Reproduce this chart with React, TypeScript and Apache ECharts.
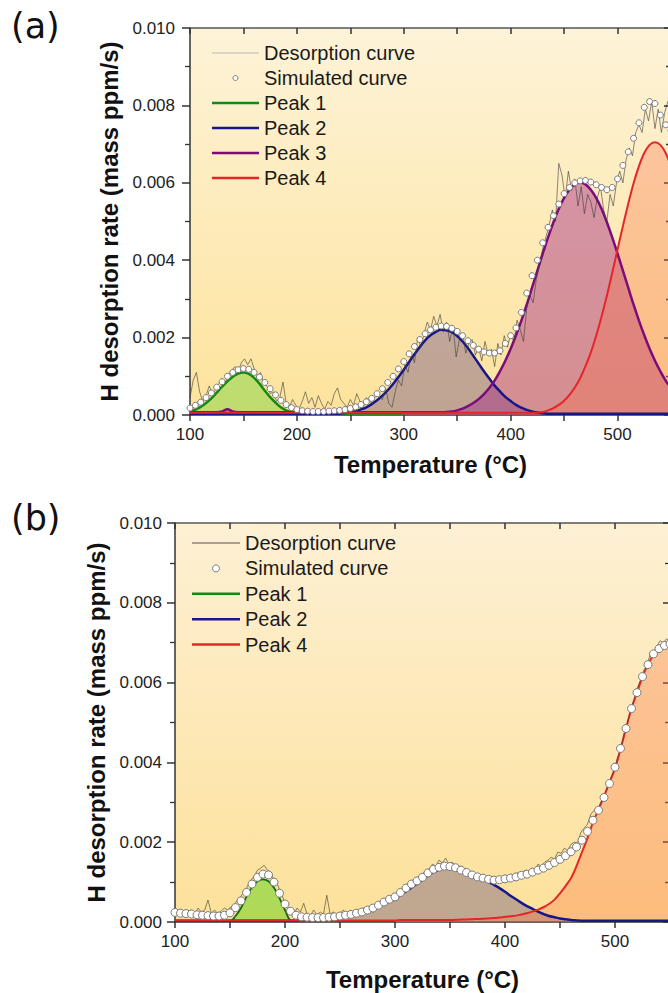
import React, { useEffect, useRef } from "react";
import * as echarts from "echarts";

// Temperature grids (°C)
const tempRaw = Array.from({ length: 151 }, (_, i) => 100 + 3 * i);
const tempFit = Array.from({ length: 91 }, (_, i) => 100 + 5 * i);
const tempPeak1 = Array.from({ length: 41 }, (_, i) => 100 + 5 * i);

// All rates below are in 10^-3 mass ppm/s
// ---------- Panel (a) ----------
const rawA = [
  0.45, 0.9, 1.1, 0.6, 0.35, 0.5, 0.75, 0.55, 0.65, 0.8,
  0.95, 0.85, 1.05, 1.15, 1.25, 1.1, 1.35, 1.45, 1.3, 1.45,
  1.2, 1.0, 1.1, 0.8, 0.75, 0.55, 0.6, 0.35, 0.45, 0.85,
  0.3, 0.2, 0.4, 0.25, 0.15, 0.35, 0.6, 0.3, 0.45, 0.2,
  0.5, 0.3, 0.15, 0.35, 0.25, 0.55, 0.7, 0.4, 0.3, 0.2,
  0.4, 0.25, 0.55, 0.35, 0.2, 0.45, 0.35, 0.3, 0.55, 0.45,
  0.4, 0.7, 0.3, 0.2, 0.6, 0.9, 0.75, 1.3, 1.1, 1.6,
  1.35, 2.0, 1.75, 2.1, 2.4, 2.2, 2.55, 2.3, 2.6, 2.15,
  2.4, 1.9, 2.3, 1.5, 1.95, 2.1, 1.6, 1.85, 1.95, 1.55,
  1.75, 1.4, 1.9, 1.55, 1.7, 1.25, 1.85, 1.55, 2.05, 1.75,
  2.1, 1.9, 2.45, 2.2, 1.9, 2.75, 3.1, 2.9, 3.5, 3.9,
  4.3, 4.6, 4.9, 5.3, 5.0, 6.5, 6.2, 5.6, 6.3, 5.8,
  6.1, 5.4, 5.9, 5.2, 5.7, 5.5, 5.1, 5.6, 5.9, 5.3,
  5.0, 5.7, 5.4, 6.0, 6.3, 6.0, 6.6, 6.9, 6.7, 7.3,
  7.5, 7.3, 7.9, 7.6, 8.1, 7.4, 7.9, 7.3, 7.8, 8.1,
  8.2,
];
const simA = [
  0.18, 0.25, 0.33, 0.45, 0.57, 0.72, 0.86, 1.0, 1.1, 1.17,
  1.2, 1.18, 1.1, 0.98, 0.84, 0.68, 0.52, 0.38, 0.27, 0.19,
  0.14, 0.11, 0.1, 0.09, 0.09, 0.09, 0.1, 0.11, 0.12, 0.14,
  0.17, 0.21, 0.27, 0.34, 0.43, 0.55, 0.68, 0.84, 1.0, 1.19,
  1.38, 1.58, 1.77, 1.95, 2.1, 2.2, 2.27, 2.3, 2.29, 2.24,
  2.16, 2.05, 1.92, 1.8, 1.7, 1.63, 1.6, 1.6, 1.66, 1.85,
  2.05, 2.25, 2.65, 3.15, 3.6, 4.0, 4.45, 4.85, 5.15, 5.45,
  5.72, 5.88, 6.0, 6.05, 6.06, 6.02, 5.95, 5.88, 5.82, 5.88,
  6.1, 6.45, 6.8, 7.15, 7.55, 7.95, 8.1, 8.05, 7.75, 7.5,
  7.35,
];
const peak1A = [
  0.1, 0.14, 0.21, 0.31, 0.43, 0.58, 0.73, 0.87, 0.99, 1.07,
  1.1, 1.06, 0.96, 0.81, 0.63, 0.46, 0.32, 0.2, 0.12, 0.07,
  0.05, 0.04, 0.04, 0.04, 0.04, 0.04, 0.04, 0.04, 0.04, 0.04,
  0.04, 0.04, 0.04, 0.04, 0.04, 0.04, 0.04, 0.04, 0.04, 0.04,
  0.04,
];
const peak2A = [
  0.03, 0.03, 0.03, 0.03, 0.03, 0.03, 0.03, 0.03, 0.03, 0.03,
  0.03, 0.03, 0.03, 0.03, 0.03, 0.03, 0.03, 0.03, 0.03, 0.03,
  0.03, 0.03, 0.03, 0.03, 0.03, 0.03, 0.03, 0.03, 0.035, 0.05,
  0.07, 0.1, 0.145, 0.2, 0.28, 0.38, 0.5, 0.64, 0.8, 0.98,
  1.17, 1.37, 1.57, 1.76, 1.93, 2.06, 2.15, 2.2, 2.19, 2.14,
  2.04, 1.9, 1.73, 1.53, 1.33, 1.13, 0.94, 0.76, 0.61, 0.47,
  0.36, 0.26, 0.19, 0.134, 0.093, 0.063, 0.045, 0.035, 0.03, 0.03,
  0.03, 0.03, 0.03, 0.03, 0.03, 0.03, 0.03, 0.03, 0.03, 0.03,
  0.03, 0.03, 0.03, 0.03, 0.03, 0.03, 0.03, 0.03, 0.03, 0.03,
  0.03,
];
const peak3A = [
  0.07, 0.07, 0.07, 0.07, 0.07, 0.07, 0.09, 0.15, 0.09, 0.07,
  0.07, 0.07, 0.07, 0.07, 0.07, 0.07, 0.07, 0.07, 0.07, 0.07,
  0.07, 0.07, 0.07, 0.07, 0.07, 0.07, 0.07, 0.07, 0.07, 0.07,
  0.07, 0.07, 0.07, 0.07, 0.07, 0.07, 0.07, 0.07, 0.07, 0.07,
  0.07, 0.07, 0.07, 0.07, 0.07, 0.07, 0.07, 0.07, 0.075, 0.09,
  0.12, 0.164, 0.23, 0.31, 0.41, 0.54, 0.7, 0.89, 1.13, 1.4,
  1.71, 2.06, 2.44, 2.85, 3.29, 3.73, 4.17, 4.59, 4.98, 5.33,
  5.61, 5.82, 5.96, 6.0, 5.96, 5.82, 5.61, 5.33, 4.98, 4.59,
  4.17, 3.73, 3.29, 2.85, 2.44, 2.06, 1.71, 1.4, 1.13, 0.89,
  0.7,
];
const peak4A = [
  0.06, 0.06, 0.06, 0.06, 0.06, 0.06, 0.06, 0.06, 0.06, 0.06,
  0.06, 0.06, 0.06, 0.06, 0.06, 0.06, 0.06, 0.06, 0.06, 0.06,
  0.06, 0.06, 0.06, 0.06, 0.06, 0.06, 0.06, 0.06, 0.06, 0.06,
  0.06, 0.06, 0.06, 0.06, 0.06, 0.06, 0.06, 0.06, 0.06, 0.06,
  0.06, 0.06, 0.06, 0.06, 0.06, 0.06, 0.06, 0.06, 0.06, 0.06,
  0.06, 0.06, 0.06, 0.06, 0.06, 0.06, 0.06, 0.06, 0.06, 0.06,
  0.06, 0.06, 0.06, 0.06, 0.06, 0.06, 0.078, 0.12, 0.178, 0.26,
  0.37, 0.52, 0.71, 0.95, 1.26, 1.62, 2.05, 2.54, 3.08, 3.67,
  4.28, 4.88, 5.46, 5.99, 6.43, 6.77, 6.98, 7.05, 6.98, 6.77,
  6.43,
];

// ---------- Panel (b) ----------
const rawB = [
  0.3, 0.25, 0.32, 0.22, 0.28, 0.3, 0.2, 0.35, 0.25, 0.3,
  0.55, 0.22, 0.3, 0.2, 0.28, 0.35, 0.3, 0.38, 0.45, 0.55,
  0.65, 0.75, 0.9, 1.05, 1.15, 1.3, 1.35, 1.42, 1.3, 1.25,
  1.05, 0.95, 0.75, 0.55, 0.4, 0.3, 0.2, 0.35, 0.25, 0.47,
  0.2, 0.15, 0.3, 0.18, 0.25, 0.2, 0.67, 0.2, 0.25, 0.18,
  0.22, 0.3, 0.2, 0.28, 0.25, 0.3, 0.27, 0.35, 0.32, 0.4,
  0.38, 0.45, 0.5, 0.52, 0.6, 0.58, 0.7, 0.68, 0.8, 0.85,
  0.9, 0.95, 1.05, 1.02, 1.15, 1.2, 1.3, 1.32, 1.45, 1.4,
  1.55, 1.48, 1.6, 1.45, 1.5, 1.4, 1.42, 1.3, 1.35, 1.22,
  1.25, 1.15, 1.2, 1.1, 1.15, 1.08, 1.15, 1.05, 1.12, 1.1,
  1.18, 1.12, 1.2, 1.15, 1.25, 1.2, 1.3, 1.25, 1.35, 1.3,
  1.45, 1.4, 1.5, 1.55, 1.62, 1.58, 1.75, 1.72, 1.85, 1.8,
  1.95, 2.0, 1.98, 2.25, 2.35, 2.45, 2.7, 2.8, 2.75, 3.0,
  3.15, 3.35, 3.6, 3.75, 4.1, 4.3, 4.7, 4.95, 5.3, 5.55,
  5.85, 6.05, 6.3, 6.45, 6.7, 6.75, 6.9, 7.05, 7.0, 7.1,
  7.0,
];
const simB = [
  0.24, 0.22, 0.21, 0.2, 0.18, 0.17, 0.16, 0.15, 0.15, 0.17,
  0.23, 0.36, 0.53, 0.74, 0.95, 1.12, 1.2, 1.18, 1.0, 0.72,
  0.45, 0.27, 0.17, 0.13, 0.12, 0.11, 0.11, 0.11, 0.12, 0.13,
  0.15, 0.17, 0.19, 0.22, 0.25, 0.3, 0.35, 0.42, 0.5, 0.57,
  0.63, 0.74, 0.85, 0.95, 1.03, 1.12, 1.23, 1.32, 1.37, 1.4,
  1.39, 1.36, 1.3, 1.24, 1.18, 1.13, 1.1, 1.07, 1.05, 1.06,
  1.08, 1.1, 1.13, 1.17, 1.2, 1.25, 1.3, 1.35, 1.42, 1.49,
  1.57, 1.66, 1.76, 1.88, 2.05, 2.27, 2.55, 2.8, 3.12, 3.47,
  3.88, 4.35, 4.85, 5.35, 5.75, 6.15, 6.45, 6.72, 6.85, 6.93,
  6.97,
];
const peak1B = [
  0.02, 0.02, 0.02, 0.02, 0.02, 0.02, 0.02, 0.02, 0.02, 0.02,
  0.02, 0.15, 0.35, 0.64, 0.87, 1.02, 1.07, 1.02, 0.86, 0.6,
  0.3, 0.04, 0.02, 0.02, 0.02, 0.02, 0.02, 0.02, 0.02, 0.02,
  0.02, 0.02, 0.02, 0.02, 0.02, 0.02, 0.02, 0.02, 0.02, 0.02,
  0.02,
];
const peak2B = [
  0.03, 0.03, 0.03, 0.03, 0.03, 0.03, 0.03, 0.03, 0.03, 0.03,
  0.03, 0.03, 0.03, 0.03, 0.03, 0.03, 0.03, 0.03, 0.03, 0.03,
  0.03, 0.03, 0.04, 0.045, 0.05, 0.055, 0.06, 0.075, 0.09, 0.1,
  0.12, 0.14, 0.17, 0.2, 0.24, 0.28, 0.33, 0.39, 0.45, 0.52,
  0.6, 0.68, 0.77, 0.86, 0.96, 1.06, 1.16, 1.25, 1.31, 1.35,
  1.36, 1.34, 1.3, 1.25, 1.2, 1.14, 1.08, 1.0, 0.93, 0.85,
  0.76, 0.66, 0.57, 0.48, 0.4, 0.33, 0.26, 0.2, 0.15, 0.12,
  0.09, 0.07, 0.05, 0.04, 0.03, 0.03, 0.03, 0.03, 0.03, 0.03,
  0.03, 0.03, 0.03, 0.03, 0.03, 0.03, 0.03, 0.03, 0.03, 0.03,
  0.03,
];
const peak4B = [
  0.04, 0.04, 0.04, 0.04, 0.04, 0.04, 0.04, 0.04, 0.04, 0.04,
  0.04, 0.04, 0.04, 0.04, 0.04, 0.04, 0.04, 0.04, 0.04, 0.04,
  0.04, 0.04, 0.04, 0.04, 0.04, 0.04, 0.04, 0.04, 0.04, 0.04,
  0.04, 0.04, 0.04, 0.04, 0.04, 0.04, 0.04, 0.04, 0.04, 0.04,
  0.04, 0.05, 0.05, 0.05, 0.05, 0.05, 0.05, 0.05, 0.05, 0.05,
  0.05, 0.055, 0.06, 0.065, 0.07, 0.075, 0.08, 0.09, 0.1, 0.11,
  0.13, 0.145, 0.16, 0.19, 0.22, 0.26, 0.31, 0.37, 0.45, 0.56,
  0.72, 0.9, 1.1, 1.4, 1.75, 2.1, 2.5, 2.82, 3.15, 3.5,
  3.85, 4.33, 4.85, 5.35, 5.75, 6.15, 6.45, 6.7, 6.85, 6.93,
  6.97,
];

const yTickValues = [0, 2, 4, 6, 8, 10];
const xLabelValues = [100, 200, 300, 400, 500];
const legendA = ["Desorption curve", "Simulated curve", "Peak 1", "Peak 2", "Peak 3", "Peak 4"];
const legendB = ["Desorption curve", "Simulated curve", "Peak 1", "Peak 2", "Peak 4"];

const FONT = '"Liberation Sans", Arial, Helvetica, sans-serif';
const GREEN = "#138a13";
const NAVY = "#17168a";
const PURPLE = "#7c0c7c";
const RED = "#e3262a";

const zip = (ts: number[], vs: number[]) => ts.map((t, i) => [t, vs[i]]);

function areaSeries(xi: number, yi: number, ts: number[], vs: number[], color: string) {
  return {
    type: "line",
    xAxisIndex: xi,
    yAxisIndex: yi,
    data: zip(ts, vs),
    symbol: "none",
    smooth: 0.35,
    lineStyle: { width: 0 },
    areaStyle: { color, opacity: 1 },
    z: 2,
    silent: true,
  };
}
function lineSeries(xi: number, yi: number, ts: number[], vs: number[], color: string, width: number) {
  return {
    type: "line",
    xAxisIndex: xi,
    yAxisIndex: yi,
    data: zip(ts, vs),
    symbol: "none",
    smooth: 0.35,
    lineStyle: { width, color },
    z: 3,
    silent: true,
  };
}
function rawSeries(xi: number, yi: number, vs: number[], color: string) {
  return {
    type: "line",
    xAxisIndex: xi,
    yAxisIndex: yi,
    data: zip(tempRaw, vs),
    symbol: "none",
    lineStyle: { width: 0.8, color },
    z: 4,
    silent: true,
  };
}
function simSeries(xi: number, yi: number, vs: number[], size: number) {
  return {
    type: "scatter",
    xAxisIndex: xi,
    yAxisIndex: yi,
    data: zip(tempFit, vs),
    symbol: "circle",
    symbolSize: size,
    itemStyle: { color: "#ffffff", borderColor: "#7a7a7a", borderWidth: 1, opacity: 1 },
    z: 5,
    silent: true,
  };
}

function xAxes(gi: number, nameGap: number) {
  const line = { show: true, onZero: false, lineStyle: { color: "#333", width: 1.5 } };
  return [
    {
      gridIndex: gi,
      type: "value",
      position: "bottom",
      min: 100,
      max: 550,
      interval: 50,
      axisLine: line,
      axisTick: { show: true, inside: false, length: 6, lineStyle: { color: "#333", width: 1.5 } },
      axisLabel: {
        fontSize: 17,
        color: "#222",
        fontFamily: FONT,
        margin: 11,
        showMaxLabel: false,
        formatter: (v: number) => (xLabelValues.includes(v) ? String(v) : ""),
      },
      splitLine: { show: false },
      name: "Temperature (°C)",
      nameLocation: "middle",
      nameGap,
      nameTextStyle: { fontSize: 24, fontWeight: "bold", color: "#111", fontFamily: FONT },
    },
    {
      gridIndex: gi,
      type: "value",
      position: "top",
      min: 100,
      max: 550,
      interval: 50,
      axisLine: { show: true, onZero: false, lineStyle: { color: "#555", width: 1.5 } },
      axisTick: { show: true, inside: true, length: 6, lineStyle: { color: "#333", width: 1.5 } },
      axisLabel: { show: false },
      splitLine: { show: false },
    },
  ];
}
function yAxes(gi: number, nameGap: number, labelMargin: number) {
  return [
    {
      gridIndex: gi,
      type: "value",
      position: "left",
      min: 0,
      max: 10,
      interval: 2,
      axisLine: { show: true, onZero: false, lineStyle: { color: "#333", width: 1.5 } },
      axisTick: { show: true, inside: false, length: 8, lineStyle: { color: "#333", width: 1.5 } },
      minorTick: { show: true, splitNumber: 2, length: 5, lineStyle: { color: "#333", width: 1.3 } },
      axisLabel: {
        fontSize: 17,
        color: "#222",
        fontFamily: FONT,
        margin: labelMargin,
        formatter: (v: number) => (yTickValues.includes(v) ? (v / 1000).toFixed(3) : ""),
      },
      splitLine: { show: false },
      minorSplitLine: { show: false },
      name: "H desorption rate (mass ppm/s)",
      nameLocation: "middle",
      nameGap,
      nameRotate: 90,
      nameTextStyle: { fontSize: 24, fontWeight: "bold", color: "#111", fontFamily: FONT },
    },
    {
      gridIndex: gi,
      type: "value",
      position: "right",
      min: 0,
      max: 10,
      interval: 2,
      axisLine: { show: true, onZero: false, lineStyle: { color: "#333", width: 1.5 } },
      axisTick: { show: true, inside: true, length: 7, lineStyle: { color: "#333", width: 1.5 } },
      minorTick: { show: true, splitNumber: 2, length: 5, lineStyle: { color: "#333", width: 1.3 } },
      axisLabel: { show: false },
      splitLine: { show: false },
      minorSplitLine: { show: false },
    },
  ];
}

function legendGraphics(
  labels: string[],
  colors: (string | null)[],
  widths: number[],
  y0: number,
  dy: number,
  x1: number,
  x2: number,
  tx: number,
  r: number
) {
  const els: any[] = [];
  labels.forEach((label, i) => {
    const y = y0 + dy * i;
    if (colors[i] === null) {
      els.push({
        type: "circle",
        shape: { cx: (x1 + x2) / 2, cy: y, r },
        style: { fill: "#ffffff", stroke: "#7a7a7a", lineWidth: 1 },
        z: 100,
      });
    } else {
      els.push({
        type: "line",
        shape: { x1, y1: y, x2, y2: y },
        style: { stroke: colors[i], lineWidth: widths[i] },
        z: 100,
      });
    }
    els.push({
      type: "text",
      x: tx,
      y,
      style: {
        text: label,
        fontSize: 20,
        fontFamily: FONT,
        fill: "#1a1a1a",
        verticalAlign: "middle",
        align: "left",
      },
      z: 100,
    });
  });
  return els;
}

export default function App() {
  const ref = useRef<HTMLDivElement>(null);
  useEffect(() => {
    if (!ref.current) return;
    const chart = echarts.init(ref.current, undefined, { renderer: "svg" });
    const bgA = new echarts.graphic.LinearGradient(0, 0, 0, 1, [
      { offset: 0, color: "#fdf3d8" },
      { offset: 1, color: "#fde39c" },
    ]);
    const bgB = new echarts.graphic.LinearGradient(0, 0, 0, 1, [
      { offset: 0, color: "#fdf0d4" },
      { offset: 1, color: "#fde19a" },
    ]);
    const option: any = {
      animation: false,
      backgroundColor: "#ffffff",
      grid: [
        { left: 190, top: 28, width: 481, height: 387, show: true, backgroundColor: bgA, borderWidth: 0 },
        { left: 175, top: 523, width: 495, height: 399, show: true, backgroundColor: bgB, borderWidth: 0 },
      ],
      xAxis: [...xAxes(0, 37), ...xAxes(1, 45)],
      yAxis: [...yAxes(0, 68, 15), ...yAxes(1, 66, 13)],
      series: [
        // panel (a)
        areaSeries(0, 0, tempPeak1, peak1A, "rgba(150,215,80,0.6)"),
        areaSeries(0, 0, tempFit, peak2A, "rgba(100,70,130,0.4)"),
        areaSeries(0, 0, tempFit, peak3A, "rgba(165,40,130,0.45)"),
        areaSeries(0, 0, tempFit, peak4A, "rgba(250,110,70,0.32)"),
        lineSeries(0, 0, tempPeak1, peak1A, GREEN, 2.5),
        lineSeries(0, 0, tempFit, peak2A, NAVY, 2.5),
        lineSeries(0, 0, tempFit, peak3A, PURPLE, 2.5),
        lineSeries(0, 0, tempFit, peak4A, RED, 2),
        rawSeries(0, 0, rawA, "rgba(60,60,60,0.75)"),
        simSeries(0, 0, simA, 6),
        // panel (b)
        areaSeries(2, 2, tempPeak1, peak1B, "rgba(140,215,60,0.7)"),
        areaSeries(2, 2, tempFit, peak2B, "rgba(100,80,125,0.4)"),
        areaSeries(2, 2, tempFit, peak4B, "rgba(250,120,70,0.35)"),
        lineSeries(2, 2, tempPeak1, peak1B, "#0e6e0e", 1.8),
        lineSeries(2, 2, tempFit, peak2B, NAVY, 2.5),
        lineSeries(2, 2, tempFit, peak4B, RED, 2),
        rawSeries(2, 2, rawB, "rgba(70,70,50,0.8)"),
        simSeries(2, 2, simB, 8),
      ],
      graphic: [
        {
          type: "text",
          left: 11,
          top: 8,
          style: { text: "(a)", fontSize: 35, fontFamily: '"DejaVu Sans", sans-serif', fill: "#111" },
        },
        {
          type: "text",
          left: 11,
          top: 500,
          style: { text: "(b)", fontSize: 35, fontFamily: '"DejaVu Sans", sans-serif', fill: "#111" },
        },
        ...legendGraphics(
          legendA,
          ["#b8b8b8", null, GREEN, NAVY, PURPLE, RED],
          [1, 0, 2.5, 2.5, 2.5, 2.5],
          53,
          25,
          212,
          259,
          264,
          2.5
        ),
        ...legendGraphics(
          legendB,
          ["#555555", null, GREEN, NAVY, RED],
          [1, 0, 2.5, 2.5, 2.5],
          543,
          25.4,
          192,
          240,
          245,
          3.5
        ),
      ],
    };
    chart.setOption(option);
    return () => chart.dispose();
  }, []);
  return (
    <div style={{ position: "fixed", left: 0, top: 0, width: 668, height: 993, overflow: "hidden", background: "#fff" }}>
      <div ref={ref} style={{ width: 680, height: 993 }} />
    </div>
  );
}
